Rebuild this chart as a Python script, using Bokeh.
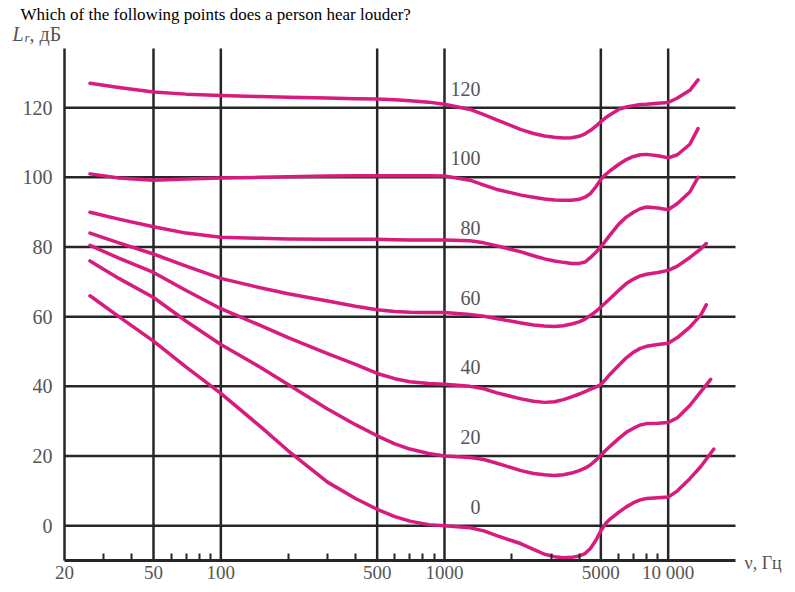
import math
from bokeh.plotting import figure
from bokeh.models import ColumnDataSource, FixedTicker, Label, Range1d, BasicTickFormatter
from bokeh.core.properties import value
from bokeh.embed import file_html
from bokeh.resources import INLINE

# ---------------- data ----------------
freq = [26, 35, 50, 70, 100, 150, 200, 300, 400, 500, 600, 700, 850, 1000,
        1300, 1500, 1700, 2200, 2500, 2800, 3100, 3400, 3700, 4000, 4250, 4500, 4750,
        5000, 5250, 5500, 6000, 6500, 7000, 7500, 8000, 9000, 10000, 11000, 12500]

levels = [0, 20, 40, 60, 80, 100, 120]

phon_0 = [66, 60, 53, 45.5, 38, 28.5, 21.5, 12.5, 7.8, 4.7, 2.6, 1.3, 0.3, 0,
          -0.6, -1.5, -2.8, -5.2, -6.8, -8.2, -8.9, -9.2, -9.1, -8.7, -8.0, -6.5, -4.2,
          -1.5, 0.6, 1.9, 3.8, 5.4, 6.6, 7.4, 7.8, 8.0, 8.2, 10, 13.5]
phon_20 = [76, 71, 65.5, 58.7, 52, 45.5, 40.5, 33.5, 29, 25.8, 23.5, 22, 20.7, 20,
           19.6, 19, 18, 15.8, 15.0, 14.6, 14.4, 14.6, 15.1, 15.8, 16.5, 17.5, 18.8,
           20.2, 21.6, 22.8, 25, 26.8, 28, 28.9, 29.3, 29.4, 29.6, 31, 34.5]
phon_40 = [80.5, 76.8, 72.7, 67.5, 62.3, 57.5, 54, 49.4, 46.3, 43.7, 42.2, 41.3, 40.8, 40.6,
           40, 39.3, 38.2, 36.4, 35.7, 35.4, 35.6, 36.2, 37, 37.8, 38.5, 39.2, 39.8,
           40.5, 42, 43.5, 46, 48.2, 49.8, 50.9, 51.5, 52, 52.4, 54, 57]
phon_60 = [84, 81.2, 78, 74.5, 71, 68.3, 66.6, 64.5, 63, 62, 61.5, 61.3, 61.2, 61.2,
           60.6, 60.1, 59.5, 58.2, 57.6, 57.3, 57.2, 57.4, 57.9, 58.5, 59.3, 60.4, 61.5,
           62.8, 64, 65.2, 67.5, 69.5, 70.8, 71.7, 72.2, 72.7, 73.3, 74.5, 77]
phon_80 = [90, 88, 85.8, 84, 82.8, 82.5, 82.3, 82.2, 82.2, 82.2, 82.1, 82, 82, 82,
           81.8, 81.2, 80.4, 78.6, 77.5, 76.6, 76, 75.6, 75.3, 75.3, 75.7, 77, 78.5,
           80, 81.8, 83.5, 86.5, 88.6, 90, 91, 91.5, 91.2, 90.7, 92.5, 95.8]
phon_100 = [101, 99.8, 99.2, 99.5, 99.8, 100, 100.2, 100.4, 100.45, 100.5, 100.5, 100.5, 100.5, 100.4,
            99.2, 97.8, 96.6, 94.9, 94.3, 93.8, 93.5, 93.4, 93.4, 93.7, 94.3, 95.4, 97.3,
            99.4, 100.8, 101.9, 103.7, 105.1, 106, 106.5, 106.6, 106.2, 105.6, 106.5, 109.5]
phon_120 = [127, 125.8, 124.5, 123.9, 123.5, 123.2, 123, 122.8, 122.6, 122.5, 122.3, 122, 121.6, 121,
            119.5, 118, 116.6, 113.7, 112.6, 111.9, 111.5, 111.3, 111.4, 111.8, 112.5, 113.5, 114.7,
            116, 117.1, 118, 119.5, 120.2, 120.6, 120.9, 121, 121.3, 121.5, 122.8, 125]

# high-frequency ends of each curve
tail_freq_0, tail_0 = [14000, 16000], [17, 22]
tail_freq_20, tail_20 = [14000, 15500], [38.5, 42]
tail_freq_40, tail_40 = [14000, 14800], [60.5, 63.4]
tail_freq_60, tail_60 = [14000, 14800], [79.5, 81]
tail_freq_80, tail_80 = [13600], [100]
tail_freq_100, tail_100 = [13600], [114]
tail_freq_120, tail_120 = [13600], [128]

x_major = [20, 50, 100, 500, 1000, 5000, 10000]
x_tick_labels = ["20", "50", "100", "500", "1000", "5000", "10 000"]
x_minor = [30, 40, 60, 70, 80, 90, 200, 300, 400, 600, 700, 800, 900,
           2000, 3000, 4000, 6000, 7000, 8000, 9000]
y_major = [0, 20, 40, 60, 80, 100, 120]

F_MIN, F_MAX = 20, 20000      # extent of the grid in frequency
L_MIN, L_MAX = -10, 137       # extent of the grid in level

title_text = "Which of the following points does a person hear louder?"

# ---------------- layout (pixels) ----------------
W, H = 787, 584
X0_PX, X1_PX = 64, 735        # pixel columns of F_MIN and F_MAX
Y0_PX, Y1_PX = 560, 48        # pixel rows of L_MIN and L_MAX
PX_DEC = (X1_PX - X0_PX) / math.log10(F_MAX / F_MIN)
PX_DB = (Y0_PX - Y1_PX) / (L_MAX - L_MIN)


def fx(px):
    return F_MIN * 10 ** ((px - X0_PX) / PX_DEC)


def fy(py):
    return L_MIN + (Y0_PX - py) / PX_DB


CURVE = "#d81b7e"
GRID = "#262626"
LABEL = "#555555"
FONT = "Liberation Serif"

p = figure(x_axis_type="log", x_range=Range1d(fx(0), fx(W)), y_range=Range1d(fy(H), fy(0)),
           width=W, height=H, min_border=0,
           output_backend="svg", toolbar_location=None)
p.outline_line_color = None
p.background_fill_color = "white"
p.xgrid.visible = False
p.ygrid.visible = False

# grid lines
p.segment(x0=[F_MIN] * len(y_major), y0=y_major, x1=[F_MAX] * len(y_major), y1=y_major,
          line_color=GRID, line_width=2.5)
p.segment(x0=x_major[1:], y0=[L_MIN] * (len(x_major) - 1), x1=x_major[1:],
          y1=[L_MAX] * (len(x_major) - 1), line_color=GRID, line_width=2.5)

# axes drawn inside the canvas
p.xaxis.fixed_location = L_MIN
p.yaxis.fixed_location = F_MIN
p.xaxis.bounds = (F_MIN, F_MAX)
p.yaxis.bounds = (L_MIN, L_MAX)
p.xaxis.ticker = FixedTicker(ticks=x_major, minor_ticks=x_minor)
p.xaxis.formatter = BasicTickFormatter(use_scientific=False)
p.xaxis.major_label_overrides = {v: t for v, t in zip(x_major, x_tick_labels)}
p.yaxis.ticker = FixedTicker(ticks=y_major, minor_ticks=[])

for ax in (p.xaxis, p.yaxis):
    ax.major_tick_in = 0
    ax.major_tick_out = 0
    ax.axis_line_color = GRID
    ax.major_label_text_font = FONT
    ax.major_label_text_font_size = "20px"
    ax.major_label_text_color = LABEL
p.xaxis.major_label_text_font_size = "19px"
p.xaxis.axis_line_width = 3
p.yaxis.axis_line_width = 2.5
p.xaxis.minor_tick_in = 7
p.xaxis.minor_tick_out = 0
p.xaxis.minor_tick_line_width = 2
p.xaxis.minor_tick_line_color = GRID
p.yaxis.minor_tick_in = 0
p.yaxis.minor_tick_out = 0
p.xaxis.major_label_standoff = 1
p.yaxis.major_label_standoff = 12

curves = [(phon_0, tail_freq_0, tail_0), (phon_20, tail_freq_20, tail_20),
          (phon_40, tail_freq_40, tail_40), (phon_60, tail_freq_60, tail_60),
          (phon_80, tail_freq_80, tail_80), (phon_100, tail_freq_100, tail_100),
          (phon_120, tail_freq_120, tail_120)]
for vals, tf, tv in curves:
    p.line(freq + tf, vals + tv, line_color=CURVE, line_width=3.5,
           line_cap="round", line_join="round")

lab_src = ColumnDataSource(dict(x=[fx(480)] * len(levels),
                                y=[lv + 5.5 for lv in levels],
                                text=[str(lv) for lv in levels]))
p.text(x="x", y="y", text="text", source=lab_src, text_align="right",
       text_baseline="middle", text_font=value(FONT), text_font_size="20px",
       text_color=LABEL)

p.add_layout(Label(x=fx(20), y=fy(14), text=title_text, text_font=FONT,
                   text_font_size="17px", text_color="black",
                   text_baseline="alphabetic", text_align="left"))
p.add_layout(Label(x=fx(12), y=fy(33), text="L", text_font=FONT, text_font_style="italic",
                   text_font_size="20px", text_color=LABEL, text_baseline="alphabetic"))
p.add_layout(Label(x=fx(24), y=fy(37), text="r", text_font=FONT, text_font_style="italic",
                   text_font_size="13px", text_color=LABEL, text_baseline="alphabetic"))
p.add_layout(Label(x=fx(29), y=fy(33), text=", дБ", text_font=FONT,
                   text_font_size="20px", text_color=LABEL, text_baseline="alphabetic"))
p.add_layout(Label(x=fx(744), y=fy(562), text="ν, Гц", text_font=FONT,
                   text_font_size="18px", text_color=LABEL, text_baseline="middle",
                   text_align="left"))

open("out.html", "w").write(file_html(p, INLINE))
